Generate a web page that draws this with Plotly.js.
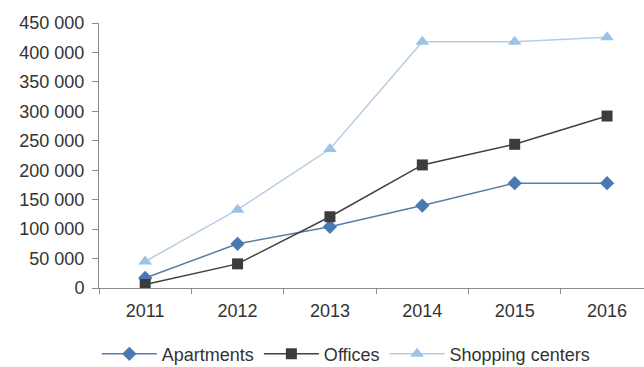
<!DOCTYPE html>
<html>
<head>
<meta charset="utf-8">
<script src="https://cdn.plot.ly/plotly-3.0.1.min.js"></script>
<style>html,body{margin:0;padding:0;background:#fff;}#chart{width:644px;height:367px;}</style>
</head>
<body>
<div id="chart"></div>
<script>
var years = ["2011", "2012", "2013", "2014", "2015", "2016"];
var apartments = [17000, 75000, 104000, 140000, 178000, 178000];
var offices = [6000, 41000, 121000, 209000, 244000, 292000];
var shopping = [45000, 133000, 236000, 418000, 418000, 426000];
var yTicks = [0, 50000, 100000, 150000, 200000, 250000, 300000, 350000, 400000, 450000];
var yTickText = ["0", "50 000", "100 000", "150 000", "200 000", "250 000", "300 000", "350 000", "400 000", "450 000"];

var traces = [
  {x: years, y: apartments, name: "Apartments", type: "scatter", mode: "lines+markers",
   line: {color: "#5a7da6", width: 1.5},
   marker: {symbol: "diamond", size: 11, color: "#4a78b0"}},
  {x: years, y: offices, name: "Offices", type: "scatter", mode: "lines+markers",
   line: {color: "#404040", width: 1.5},
   marker: {symbol: "square", size: 11, color: "#3c3c3c"}},
  {x: years, y: shopping, name: "Shopping centers", type: "scatter", mode: "lines+markers",
   line: {color: "#b4cde6", width: 1.5},
   marker: {symbol: "triangle-up", size: 12, color: "#9cc2e4"}}
];

var layout = {
  width: 644, height: 367,
  margin: {l: 99, r: 0, t: 23, b: 79},
  paper_bgcolor: "#fff", plot_bgcolor: "#fff",
  font: {family: "Liberation Sans, Arial, sans-serif", size: 18, color: "#333"},
  showlegend: true,
  legend: {orientation: "h", xref: "container", x: 0.537, xanchor: "center",
           yref: "container", y: 0.035, yanchor: "middle",
           itemwidth: 55, font: {size: 18, color: "#333"}, tracegroupgap: 0},
  xaxis: {type: "category", range: [-0.5, 5.4], showgrid: false, zeroline: false,
          showline: true, linecolor: "#8c8c8c", linewidth: 1,
          ticks: "outside", ticklen: 5, tickcolor: "#8c8c8c", tickson: "boundaries",
          ticklabelstandoff: 6, fixedrange: true},
  yaxis: {range: [0, 450000], tickvals: yTicks, ticktext: yTickText, showgrid: false,
          zeroline: false, showline: true, linecolor: "#8c8c8c", linewidth: 1,
          ticks: "outside", ticklen: 6, tickcolor: "#8c8c8c", ticklabelstandoff: 4,
          fixedrange: true}
};
Plotly.newPlot("chart", traces, layout, {displayModeBar: false, staticPlot: true});
</script>
</body>
</html>
